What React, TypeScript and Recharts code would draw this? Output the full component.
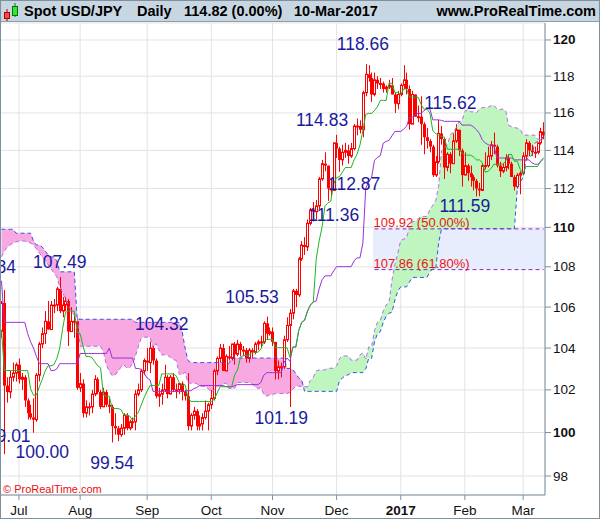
import React from 'react';
import {
  Area,
  Bar,
  CartesianGrid,
  ComposedChart,
  Line,
  ReferenceArea,
  ReferenceDot,
  ReferenceLine,
  XAxis,
  YAxis,
} from 'recharts';

// daily candles, 23-Jun-2016 .. 10-Mar-2017 (index = trading day)
const opens = [
  104.8, 106.2, 102.2, 101.9, 102.6, 102.8, 103.2, 102.5, 102.6, 101.5,
  100.9, 100.7, 100.6, 102.7, 104.2, 104.7, 105.3, 104.9, 106.1, 106.1,
  106.9, 105.8, 106.1, 106.3, 104.8, 105.3, 105.3, 102.1, 102.3, 100.9,
  101.2, 101.2, 101.8, 102.5, 101.9, 101.2, 101.9, 101.3, 101.2, 100.3,
  100.2, 99.9, 100.2, 100.8, 100.2, 100.5, 100.5, 101.8, 102.0, 102.9,
  103.4, 103.3, 104.0, 103.4, 101.7, 101.8, 102.0, 102.6, 101.8, 102.6,
  102.0, 102.0, 102.3, 101.9, 101.7, 100.3, 100.8, 101.0, 100.3, 100.4,
  100.7, 101.0, 101.3, 101.6, 102.9, 103.5, 104.0, 102.9, 103.6, 103.5,
  104.2, 103.7, 104.2, 103.9, 103.9, 103.5, 103.9, 103.8, 104.2, 104.3,
  104.3, 105.2, 104.7, 104.8, 104.3, 102.9, 103.1, 103.1, 104.4, 105.1,
  105.7, 106.8, 106.6, 108.4, 109.1, 109.0, 110.2, 110.9, 110.8, 111.1,
  112.5, 113.3, 113.2, 112.0, 111.9, 114.4, 114.1, 113.5, 113.9, 114.0,
  113.7, 114.1, 115.3, 115.3, 115.1, 117.1, 118.1, 117.9, 117.0, 117.8,
  117.6, 117.6, 117.3, 117.4, 117.5, 117.0, 116.5, 117.0, 117.5, 117.8,
  117.3, 115.4, 117.0, 115.8, 115.8, 115.4, 114.7, 114.5, 114.2, 112.7,
  113.4, 114.9, 114.6, 113.1, 113.8, 113.3, 114.5, 115.1, 114.0, 112.7,
  113.2, 112.8, 112.6, 112.4, 112.0, 111.9, 113.2, 113.2, 113.7, 114.3,
  114.2, 113.2, 112.9, 113.1, 113.6, 113.3, 112.6, 112.1, 112.7, 112.8,
  113.7, 114.4, 114.0, 113.9, 113.9, 114.4, 115.0,
];
const highs = [
  106.3, 106.84, 102.6, 102.9, 103.3, 103.3, 103.5, 102.8, 102.7, 101.6,
  101.3, 101.6, 102.8, 104.3, 105.0, 105.8, 106.3, 106.3, 106.4, 107.0,
  107.49, 106.5, 106.5, 106.4, 106.0, 105.6, 105.4, 102.8, 102.5, 101.5,
  101.4, 102.0, 102.7, 102.6, 102.0, 102.1, 102.0, 101.6, 101.3, 100.9,
  100.3, 100.4, 100.9, 100.9, 100.6, 100.7, 102.0, 102.3, 103.0, 103.5,
  104.0, 104.32, 104.1, 103.5, 102.1, 102.3, 103.2, 102.7, 102.7, 102.8,
  102.3, 102.3, 102.4, 102.0, 102.8, 100.9, 101.2, 101.1, 100.8, 100.9,
  101.5, 101.4, 102.0, 103.0, 103.6, 104.2, 104.2, 103.7, 104.1, 104.2,
  104.3, 104.4, 104.3, 104.1, 104.0, 104.0, 104.0, 104.3, 104.4, 104.6,
  105.3, 105.53, 105.0, 105.0, 104.3, 103.4, 103.3, 104.6, 105.5, 105.9,
  106.9, 106.9, 108.5, 109.3, 109.5, 110.4, 111.0, 111.3, 111.4, 112.6,
  113.5, 113.9, 113.2, 112.5, 114.4, 114.83, 114.2, 114.3, 114.4, 114.3,
  114.4, 115.4, 115.7, 115.6, 117.2, 118.66, 118.6, 118.2, 118.2, 118.0,
  117.9, 117.7, 117.5, 117.8, 117.9, 117.1, 117.2, 117.6, 118.6, 118.2,
  117.5, 117.2, 117.0, 116.4, 116.9, 115.5, 115.2, 114.6, 114.3, 113.7,
  115.62, 115.3, 114.7, 113.9, 113.9, 114.9, 115.4, 115.1, 114.1, 113.9,
  113.3, 113.2, 112.7, 112.5, 112.3, 113.3, 113.9, 114.2, 114.5, 114.95,
  114.3, 113.4, 113.3, 113.8, 113.8, 113.4, 112.7, 112.8, 112.9, 113.9,
  114.6, 114.5, 114.3, 114.2, 114.4, 115.2, 115.5,
];
const lows = [
  104.5, 99.0, 101.4, 101.6, 102.4, 102.4, 102.3, 102.0, 101.2, 100.6,
  100.6, 99.99, 100.5, 102.4, 104.0, 104.2, 104.9, 104.9, 105.7, 105.8,
  105.7, 105.5, 105.8, 104.1, 104.8, 104.5, 102.0, 101.9, 100.7, 100.7,
  100.8, 100.9, 101.7, 101.8, 101.1, 101.2, 101.2, 100.9, 99.54, 99.9,
  99.6, 99.8, 99.9, 100.1, 100.1, 100.2, 100.1, 101.7, 101.9, 102.7,
  102.9, 102.8, 103.2, 101.6, 101.2, 101.3, 101.9, 101.6, 101.8, 101.9,
  101.6, 101.8, 101.5, 101.5, 100.1, 100.1, 100.6, 100.1, 100.1, 100.1,
  100.6, 100.1, 101.1, 101.5, 102.7, 103.3, 102.9, 102.9, 103.4, 103.4,
  103.2, 103.6, 103.6, 103.6, 103.3, 103.3, 103.5, 103.7, 103.9, 104.0,
  104.2, 104.4, 104.6, 104.1, 102.5, 102.5, 102.6, 103.0, 104.3, 101.19,
  105.4, 106.0, 106.5, 108.3, 108.6, 108.8, 110.1, 110.3, 110.4, 110.9,
  112.4, 112.9, 111.36, 111.6, 111.9, 113.6, 112.87, 113.2, 113.6, 113.3,
  113.6, 114.0, 114.8, 114.9, 114.7, 116.9, 117.7, 116.6, 116.9, 117.3,
  117.3, 117.1, 117.1, 117.3, 117.0, 116.0, 116.2, 116.9, 117.3, 117.0,
  115.1, 115.4, 115.8, 115.5, 114.3, 113.8, 114.1, 113.9, 112.6, 112.6,
  113.3, 114.3, 112.5, 112.9, 112.8, 113.3, 114.4, 113.7, 112.1, 112.7,
  112.4, 112.1, 111.9, 111.59, 111.6, 111.9, 113.0, 113.1, 113.5, 113.8,
  113.1, 112.6, 112.8, 112.9, 113.0, 112.6, 111.9, 112.0, 111.7, 112.7,
  113.5, 113.7, 113.7, 113.6, 113.8, 114.3, 114.6,
];
const closes = [
  106.2, 102.2, 101.9, 102.6, 102.8, 103.2, 102.5, 102.6, 101.5, 100.9,
  100.7, 100.6, 102.7, 104.2, 104.7, 105.3, 104.9, 106.1, 106.1, 106.9,
  105.8, 106.1, 106.3, 104.8, 105.3, 105.3, 102.1, 102.3, 100.9, 101.2,
  101.2, 101.8, 102.5, 101.9, 101.2, 101.9, 101.3, 101.2, 100.3, 100.2,
  99.9, 100.2, 100.8, 100.2, 100.5, 100.5, 101.8, 102.0, 102.9, 103.4,
  103.3, 104.0, 103.4, 101.7, 101.8, 102.0, 102.6, 101.8, 102.6, 102.0,
  102.0, 102.3, 101.9, 101.7, 100.3, 100.8, 101.0, 100.3, 100.4, 100.7,
  101.0, 101.3, 101.6, 102.9, 103.5, 104.0, 102.9, 103.6, 103.5, 104.2,
  103.7, 104.2, 103.9, 103.9, 103.5, 103.9, 103.8, 104.2, 104.3, 104.3,
  105.2, 104.7, 104.8, 104.3, 102.9, 103.1, 103.1, 104.4, 105.1, 105.7,
  106.8, 106.6, 108.4, 109.1, 109.0, 110.2, 110.9, 110.8, 111.1, 112.5,
  113.3, 113.2, 112.0, 111.9, 114.4, 114.1, 113.5, 113.9, 114.0, 113.7,
  114.1, 115.3, 115.3, 115.1, 117.1, 118.1, 117.9, 117.0, 117.8, 117.6,
  117.6, 117.3, 117.4, 117.5, 117.0, 116.5, 117.0, 117.5, 117.8, 117.3,
  115.4, 117.0, 115.8, 115.8, 115.4, 114.7, 114.5, 114.2, 112.7, 113.4,
  114.9, 114.6, 113.1, 113.8, 113.3, 114.5, 115.1, 114.0, 112.7, 113.2,
  112.8, 112.6, 112.4, 112.0, 111.9, 113.2, 113.2, 113.7, 114.3, 114.2,
  113.2, 112.9, 113.1, 113.6, 113.3, 112.6, 112.1, 112.7, 112.8, 113.7,
  114.4, 114.0, 113.9, 113.9, 114.4, 115.0, 114.8,
];

// ichimoku lines
const tenkan = [
  104.9, 102.92, 102.92, 102.92, 102.92, 102.92, 102.92, 102.92, 102.92, 102.92,
  102.05, 101.75, 101.75, 102.15, 102.5, 102.9, 103.15, 103.15, 103.2, 103.5,
  104.0, 104.95, 105.75, 105.8, 105.8, 105.8, 104.75, 104.7, 104.1, 103.6,
  103.6, 103.55, 103.35, 103.15, 103.05, 101.75, 101.7, 101.7, 101.12, 101.12,
  101.12, 101.07, 100.82, 100.82, 100.77, 100.57, 100.77, 100.95, 101.3, 101.65,
  101.95, 102.21, 102.21, 102.21, 102.21, 102.76, 102.76, 102.76, 102.76, 102.76,
  102.65, 102.35, 102.2, 102.25, 101.65, 101.45, 101.45, 101.45, 101.45, 101.45,
  101.45, 101.45, 101.45, 101.55, 101.85, 102.15, 102.15, 102.15, 102.15, 102.15,
  102.7, 102.95, 103.55, 103.65, 103.65, 103.65, 103.8, 103.8, 103.8, 103.95,
  104.3, 104.42, 104.42, 104.42, 104.02, 104.02, 104.02, 104.02, 104.02, 103.55,
  104.05, 104.05, 104.85, 105.25, 105.35, 105.8, 106.1, 106.25, 108.4, 109.3,
  110.0, 111.1, 111.25, 111.35, 112.25, 112.57, 112.62, 112.87, 113.1, 113.1,
  113.1, 113.5, 113.8, 114.28, 115.04, 115.93, 115.98, 115.98, 116.13, 116.33,
  116.68, 116.68, 116.68, 117.63, 117.6, 117.1, 117.1, 117.0, 117.3, 117.3,
  116.85, 116.85, 116.85, 116.85, 116.45, 116.2, 116.2, 116.0, 115.05, 114.9,
  114.8, 114.75, 114.7, 114.06, 114.06, 114.06, 114.06, 114.06, 113.86, 113.75,
  113.75, 113.75, 113.65, 113.5, 113.5, 113.35, 112.85, 112.9, 113.05, 113.27,
  113.27, 113.27, 113.28, 113.43, 113.78, 113.78, 113.43, 113.43, 113.0, 112.8,
  113.15, 113.15, 113.15, 113.15, 113.15, 113.45, 113.6,
];
const kijun = [
  107.3, 105.25, 105.25, 105.25, 105.25, 105.25, 105.25, 105.25, 105.25, 104.7,
  104.3, 104.0, 103.6, 103.25, 103.25, 103.25, 103.25, 102.92, 102.92, 103.0,
  103.25, 103.25, 103.25, 103.25, 103.25, 103.25, 103.25, 103.74, 103.74, 103.74,
  103.74, 103.74, 103.74, 103.74, 103.74, 103.74, 103.74, 104.0, 103.52, 103.52,
  103.52, 103.52, 103.52, 103.52, 103.52, 103.52, 103.02, 103.02, 102.97, 102.77,
  102.57, 102.47, 101.93, 101.93, 101.93, 101.93, 101.93, 101.93, 101.93, 101.93,
  101.93, 101.93, 101.93, 101.93, 101.96, 101.96, 102.06, 102.11, 102.21, 102.21,
  102.21, 102.21, 102.21, 102.21, 102.21, 102.21, 102.21, 102.15, 102.15, 102.15,
  102.2, 102.25, 102.25, 102.25, 102.25, 102.25, 102.25, 102.25, 102.25, 102.35,
  102.7, 102.82, 102.82, 102.82, 102.82, 102.82, 102.82, 103.32, 103.52, 103.36,
  104.05, 104.05, 104.85, 105.25, 105.35, 105.8, 106.1, 106.25, 106.3, 106.9,
  107.35, 107.55, 107.55, 107.55, 107.8, 108.01, 108.01, 108.01, 108.01, 108.01,
  108.01, 108.3, 108.45, 108.45, 109.2, 112.03, 112.33, 112.58, 113.48, 113.63,
  113.73, 114.38, 114.48, 114.53, 114.78, 115.01, 115.01, 115.01, 115.13, 115.28,
  115.77, 115.77, 115.93, 115.98, 115.98, 116.13, 116.23, 116.23, 115.63, 115.63,
  115.63, 115.6, 115.55, 115.55, 115.55, 115.55, 115.55, 115.55, 115.35, 115.35,
  115.35, 115.35, 115.25, 115.1, 114.9, 114.55, 114.4, 114.3, 114.25, 114.25,
  113.6, 113.6, 113.6, 113.6, 113.6, 113.6, 113.5, 113.5, 113.5, 113.5,
  113.5, 113.5, 113.35, 113.27, 113.27, 113.4, 113.55,
];
const spanA = [
  108.5, 108.8, 109.0, 109.1, 109.2, 109.25, 109.3, 109.3, 109.3, 109.25,
  109.2, 109.1, 108.9, 108.7, 108.5, 108.3, 108.1, 107.9, 107.7, 107.5,
  107.0, 106.7, 106.4, 106.1, 105.8, 105.6, 105.5, 104.09, 104.09, 104.09,
  104.09, 104.09, 104.09, 104.09, 104.09, 103.81, 103.18, 102.88, 102.68, 102.7,
  102.88, 103.08, 103.2, 103.04, 103.06, 103.25, 103.63, 104.1, 104.5, 104.53,
  104.53, 104.53, 104.0, 104.22, 103.92, 103.67, 103.67, 103.65, 103.55, 103.45,
  103.4, 102.75, 102.72, 102.85, 102.32, 102.32, 102.32, 102.3, 102.17, 102.17,
  102.15, 102.05, 101.9, 101.99, 102.14, 102.21, 102.26, 102.34, 102.07, 102.07,
  102.07, 102.35, 102.35, 102.35, 102.35, 102.35, 102.29, 102.14, 102.07, 102.09,
  101.8, 101.7, 101.76, 101.78, 101.83, 101.83, 101.83, 101.83, 101.83, 101.88,
  102.03, 102.18, 102.18, 102.15, 102.15, 102.15, 102.45, 102.6, 102.9, 102.95,
  102.95, 102.95, 103.03, 103.03, 103.03, 103.15, 103.5, 103.62, 103.62, 103.62,
  103.42, 103.42, 103.42, 103.67, 103.77, 103.46, 104.05, 104.05, 104.85, 105.25,
  105.35, 105.8, 106.1, 106.25, 107.35, 108.1, 108.68, 109.33, 109.4, 109.45,
  110.03, 110.29, 110.32, 110.44, 110.56, 110.56, 110.56, 110.9, 111.13, 111.37,
  112.12, 113.98, 114.16, 114.28, 114.81, 114.98, 115.21, 115.53, 115.58, 116.08,
  116.19, 116.06, 116.06, 116.01, 116.22, 116.29, 116.31, 116.31, 116.39, 116.42,
  116.22, 116.17, 116.22, 116.12, 115.34, 115.27, 115.22, 115.18, 115.13, 114.81,
  114.81, 114.81, 114.81, 114.81, 114.61, 114.55, 114.55,
];
const spanB = [
  109.9, 109.9, 109.9, 109.9, 109.9, 109.7, 109.7, 109.7, 109.7, 109.7,
  109.7, 109.3, 109.1, 109.1, 109.0, 108.8, 108.6, 108.5, 108.5, 108.3,
  107.75, 107.75, 107.75, 107.75, 107.75, 107.75, 105.4, 105.4, 105.4, 105.4,
  105.4, 105.4, 105.4, 105.4, 105.4, 105.4, 105.4, 105.4, 105.4, 105.4,
  105.4, 105.4, 105.4, 105.4, 105.4, 105.4, 105.25, 105.25, 105.25, 105.25,
  105.25, 105.25, 105.25, 105.25, 105.25, 105.25, 105.25, 105.25, 105.25, 105.25,
  105.25, 105.25, 104.8, 104.0, 103.4, 103.3, 103.3, 103.3, 103.3, 103.3,
  103.3, 103.3, 103.3, 103.3, 103.3, 103.3, 103.3, 103.25, 103.25, 103.52,
  103.52, 103.52, 103.52, 103.52, 103.52, 103.52, 103.52, 103.52, 103.52, 103.52,
  103.52, 103.52, 103.52, 103.52, 103.52, 103.52, 103.52, 103.52, 103.02, 103.02,
  102.97, 102.77, 102.57, 102.47, 101.93, 101.93, 101.93, 101.93, 101.93, 101.93,
  101.93, 101.93, 101.93, 101.93, 101.93, 101.93, 102.45, 102.57, 102.67, 102.72,
  102.82, 102.82, 102.82, 102.82, 102.82, 103.0, 103.5, 103.5, 104.3, 104.7,
  104.8, 105.25, 105.55, 105.7, 105.75, 106.35, 106.8, 107.0, 107.0, 107.0,
  107.25, 107.47, 107.47, 107.47, 107.47, 107.47, 107.47, 107.75, 107.9, 107.9,
  109.2, 109.93, 109.93, 109.93, 109.93, 109.93, 109.93, 109.93, 109.93, 109.93,
  109.93, 109.93, 109.93, 109.93, 109.93, 109.93, 109.93, 109.93, 109.93, 109.93,
  109.93, 109.93, 109.93, 109.93, 109.93, 109.93, 109.93, 112.03, 112.33, 112.58,
  113.48, 113.63, 113.73, 114.38, 114.48, 114.53, 114.78,
];

const monthTicks = [6, 27, 50, 72, 93, 115, 137, 159, 179];
const monthLabels = ['Jul', 'Aug', 'Sep', 'Oct', 'Nov', 'Dec', '2017', 'Feb', 'Mar'];
const priceTicks = [98, 100, 102, 104, 106, 108, 110, 112, 114, 116, 118, 120];

const fibFrom = 128;
const fibTo = 186;
const fibLevels = [
  { price: 109.92, text: '109.92 (50.00%)' },
  { price: 107.86, text: '107.86 (61.80%)' },
];

// swing labels: text, day index and price where the label sits
const swingLabels = [
  { text: '106.84', i: 5, p: 107.97, anchor: 'end' },
  { text: '99.01', i: 10, p: 99.86, anchor: 'end' },
  { text: '100.00', i: 14, p: 99.08, anchor: 'middle' },
  { text: '107.49', i: 20, p: 108.22, anchor: 'middle' },
  { text: '99.54', i: 38, p: 98.6, anchor: 'middle' },
  { text: '104.32', i: 55, p: 105.19, anchor: 'middle' },
  { text: '105.53', i: 86, p: 106.52, anchor: 'middle' },
  { text: '101.19', i: 96, p: 100.68, anchor: 'middle' },
  { text: '114.83', i: 110, p: 115.61, anchor: 'middle' },
  { text: '111.36', i: 114, p: 110.61, anchor: 'middle' },
  { text: '112.87', i: 121, p: 112.22, anchor: 'middle' },
  { text: '118.66', i: 124, p: 119.78, anchor: 'middle' },
  { text: '115.62', i: 154, p: 116.53, anchor: 'middle' },
  { text: '111.59', i: 159, p: 111.12, anchor: 'middle' },
];

const FONT = '"Liberation Sans", Arial, Helvetica, sans-serif';
const RED = '#ff0000';
const NAVY = '#1a1a9c';

const data = closes.map((c, i) => {
  const top = Math.max(spanA[i], spanB[i]);
  return {
    i,
    o: opens[i],
    h: highs[i],
    l: lows[i],
    c,
    range: [lows[i], highs[i]],
    tenkan: tenkan[i],
    kijun: kijun[i],
    spanA: spanA[i],
    spanB: spanB[i],
    pink: [spanA[i], top],
    green: [spanB[i], top],
  };
});

function Candle(props: any) {
  const { x, y, width, height, payload } = props;
  if (payload == null || height == null) return null;
  const { o, h, l, c } = payload;
  const span = Math.log(h) - Math.log(l);
  const py = (p: number) => (span > 0 ? y + ((Math.log(h) - Math.log(p)) / span) * height : y);
  const cx = Math.round(x + width / 2) + 0.5;
  const top = py(Math.max(o, c));
  const bot = py(Math.min(o, c));
  const bodyH = Math.max(bot - top, 1);
  return (
    <g>
      <line x1={cx} x2={cx} y1={y} y2={y + height} stroke={RED} strokeWidth={1} />
      {c >= o ? (
        <rect x={cx - 1} y={top} width={2} height={bodyH} fill="#fff" stroke={RED} strokeWidth={1} />
      ) : (
        <rect x={cx - 1.5} y={top} width={3} height={bodyH} fill={RED} />
      )}
    </g>
  );
}

function MonthTick(props: any) {
  const { x, y, payload } = props;
  const k = monthTicks.indexOf(payload.value);
  const label = monthLabels[k] ?? '';
  return (
    <text
      x={x}
      y={y + 8}
      textAnchor="middle"
      dominantBaseline="central"
      fontFamily={FONT}
      fontSize={13.5}
      fontWeight={label === '2017' ? 'bold' : 'normal'}
      fill="#111"
    >
      {label}
    </text>
  );
}

function PriceTick(props: any) {
  const { x, y, payload } = props;
  const v = payload.value;
  return (
    <text
      x={x}
      y={y}
      textAnchor="start"
      dominantBaseline="central"
      fontFamily={FONT}
      fontSize={13.5}
      fontWeight={v % 10 === 0 ? 'bold' : 'normal'}
      fill="#111"
    >
      {v}
    </text>
  );
}

export default function App() {
  return (
    <div style={{ position: 'absolute', left: 0, top: 0, width: 600, height: 519, background: '#fff', fontFamily: FONT }}>
      <ComposedChart width={600} height={519} data={data} margin={{ top: 23, right: 0, bottom: 0, left: 0 }}>
        <CartesianGrid stroke="#e3e3e3" />
        <XAxis
          dataKey="i"
          type="category"
          ticks={monthTicks}
          interval={0}
          tick={<MonthTick />}
          tickSize={5}
          height={24}
          axisLine={{ stroke: '#7e909c' }}
          tickLine={{ stroke: '#7e909c' }}
        />
        <YAxis
          orientation="right"
          type="number"
          scale="log"
          domain={[97.14, 120.95]}
          allowDataOverflow
          ticks={priceTicks}
          tick={<PriceTick />}
          tickSize={6}
          tickMargin={2}
          width={55}
          axisLine={{ stroke: '#7e909c' }}
          tickLine={{ stroke: '#7e909c' }}
        />
        <ReferenceArea
          x1={fibFrom}
          x2={fibTo}
          y1={fibLevels[1].price}
          y2={fibLevels[0].price}
          fill="#e7edfc"
          fillOpacity={1}
          stroke="none"
        />
        <Area dataKey="pink" type="linear" stroke="none" fill="#f8a9e2" fillOpacity={1} isAnimationActive={false} dot={false} activeDot={false} />
        <Area dataKey="green" type="linear" stroke="none" fill="#bff5bf" fillOpacity={1} isAnimationActive={false} dot={false} activeDot={false} />
        <Line dataKey="spanA" type="linear" stroke="#b36ae6" strokeWidth={1} strokeDasharray="4 3" dot={false} activeDot={false} isAnimationActive={false} />
        <Line dataKey="spanB" type="linear" stroke="#3a4ee6" strokeWidth={1} strokeDasharray="4 3" dot={false} activeDot={false} isAnimationActive={false} />
        {fibLevels.map((f) => (
          <ReferenceLine
            key={f.text}
            segment={[{ x: fibFrom, y: f.price }, { x: fibTo, y: f.price }]}
            stroke="#7a2cc0"
            strokeDasharray="4 3"
          />
        ))}
        <Bar dataKey="range" barSize={3} isAnimationActive={false} shape={(p: any) => <Candle {...p} />} />
        <Line dataKey="kijun" type="linear" stroke="#9a2fd8" strokeWidth={1} dot={false} activeDot={false} isAnimationActive={false} />
        <Line dataKey="tenkan" type="linear" stroke="#1fb51f" strokeWidth={1} dot={false} activeDot={false} isAnimationActive={false} />
        {fibLevels.map((f) => (
          <ReferenceDot
            key={'l' + f.text}
            x={fibFrom}
            y={f.price}
            r={0}
            shape={(p: any) => (
              <text x={p.cx - 1} y={p.cy - 2} fontFamily={FONT} fontSize={13} fill="#ee1414">
                {f.text}
              </text>
            )}
          />
        ))}
        {swingLabels.map((s) => (
          <ReferenceDot
            key={s.text}
            x={s.i}
            y={s.p}
            r={0}
            shape={(p: any) => (
              <text
                x={p.cx}
                y={p.cy}
                textAnchor={s.anchor as any}
                dominantBaseline="central"
                fontFamily={FONT}
                fontSize={17.5}
                fill={NAVY}
              >
                {s.text}
              </text>
            )}
          />
        ))}
      </ComposedChart>

      <div
        style={{
          position: 'absolute',
          left: 0,
          top: 0,
          width: 600,
          height: 22,
          background: '#c7d6e0',
          borderBottom: '1px solid #8a9caa',
          boxSizing: 'border-box',
          fontWeight: 'bold',
          fontSize: 14.5,
          color: '#000',
          lineHeight: '22px',
        }}
      >
        <svg width={20} height={22} style={{ position: 'absolute', left: 2, top: 0 }}>
          <line x1={5} x2={5} y1={9} y2={21} stroke="#a00" />
          <rect x={2.5} y={12.5} width={5} height={6} fill="#f24b4b" stroke="#a00" />
          <line x1={13} x2={13} y1={3} y2={17} stroke="#070" />
          <rect x={10.5} y={6.5} width={5} height={9} fill="#3de03d" stroke="#070" />
        </svg>
        <span style={{ position: 'absolute', left: 24 }}>Spot USD/JPY</span>
        <span style={{ position: 'absolute', left: 137 }}>Daily</span>
        <span style={{ position: 'absolute', left: 184 }}>114.82 (0.00%)</span>
        <span style={{ position: 'absolute', left: 294 }}>10-Mar-2017</span>
        <span style={{ position: 'absolute', right: 4 }}>www.ProRealTime.com</span>
      </div>
      <div style={{ position: 'absolute', left: 3, top: 482, fontSize: 11, color: '#e81010', lineHeight: '14px' }}>
        © ProRealTime.com
      </div>
      <div
        style={{
          position: 'absolute',
          left: 0,
          top: 0,
          width: 600,
          height: 519,
          border: '1px solid #7d909d',
          boxSizing: 'border-box',
          pointerEvents: 'none',
        }}
      />
    </div>
  );
}
